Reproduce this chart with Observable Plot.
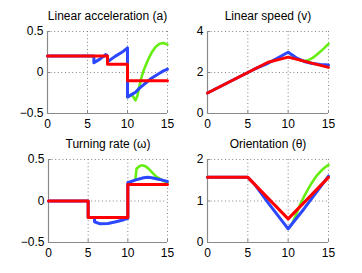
<!DOCTYPE html>
<html>
<head>
<meta charset="utf-8">
<script src="https://cdn.jsdelivr.net/npm/d3@7"></script>
<script src="https://cdn.jsdelivr.net/npm/@observablehq/plot@0.6"></script>
<style>
  html, body { margin: 0; padding: 0; background: #fff; }
  #wrap { position: relative; width: 362px; height: 273px; overflow: hidden; background: #fff; }
  #wrap > div { position: absolute; }
</style>
</head>
<body>
<div id="wrap">
  <div id="p1" style="left:0;top:0"></div>
  <div id="p2" style="left:181px;top:0"></div>
  <div id="p3" style="left:0;top:136px"></div>
  <div id="p4" style="left:181px;top:136px"></div>
</div>
<script>
// ---------- data ----------
const titles = ["Linear acceleration (a)", "Linear speed (v)", "Turning rate (\u03c9)", "Orientation (\u03b8)"];
const xTicks = [0, 5, 10, 15];
const xTickLabels = ["0", "5", "10", "15"];

// Panel 1: linear acceleration
const accYTicks = [-0.5, 0, 0.5];
const accYTickLabels = ["\u22120.5", "0", "0.5"];
const accRedT = [0, 7.5, 7.5, 10, 10, 15];
const accRed  = [0.2, 0.2, 0.1, 0.1, -0.1, -0.1];
const accBlueT = [0, 5.8, 5.8, 6.5, 7.3, 7.5, 7.5, 8.5, 9.5, 10, 10, 10.5, 11, 11.5, 12, 12.5, 13, 13.5, 14, 14.5, 15];
const accBlue  = [0.2, 0.2, 0.12, 0.16, 0.22, 0.2, 0.13, 0.2, 0.26, 0.3, -0.3, -0.27, -0.24, -0.19, -0.15, -0.11, -0.07, -0.04, -0.01, 0.02, 0.04];
const accGreenT = [10, 10.5, 10.75, 11, 11.25, 11.5, 11.75, 12, 12.5, 13, 13.5, 14, 14.5, 15];
const accGreen  = [-0.3, -0.27, -0.3, -0.34, -0.28, -0.16, -0.06, 0.02, 0.14, 0.24, 0.31, 0.35, 0.36, 0.34];

// Panel 2: linear speed
const spdYTicks = [0, 2, 4];
const spdYTickLabels = ["0", "2", "4"];
const spdRedT = [0, 7.5, 10, 15];
const spdRed  = [1, 2.5, 2.75, 2.25];
const spdBlueT = [0, 5.8, 7.5, 10, 11, 12, 13, 14, 15];
const spdBlue  = [1, 2.16, 2.45, 2.99, 2.72, 2.54, 2.44, 2.39, 2.36];
const spdGreenT = [10, 11, 11.5, 12, 12.5, 13, 13.5, 14, 14.5, 15];
const spdGreen  = [2.99, 2.69, 2.6, 2.56, 2.6, 2.7, 2.85, 3.02, 3.2, 3.4];

// Panel 3: turning rate
const trnYTicks = [-0.5, 0, 0.5];
const trnYTickLabels = ["\u22120.5", "0", "0.5"];
const trnRedT = [0, 5, 5, 10, 10, 15];
const trnRed  = [0, 0, -0.2, -0.2, 0.2, 0.2];
const trnBlueT = [0, 5, 5, 5.8, 5.8, 6.5, 7.5, 8.5, 9.5, 10, 10, 11, 12, 12.5, 13, 14, 15];
const trnBlue  = [0, 0, -0.2, -0.2, -0.25, -0.275, -0.27, -0.25, -0.225, -0.21, 0.22, 0.255, 0.28, 0.285, 0.28, 0.26, 0.235];
const trnGreenT = [10.8, 10.95, 11.1, 11.5, 11.8, 12.2, 12.6, 13, 13.5, 14, 14.5, 15];
const trnGreen  = [0.25, 0.26, 0.39, 0.42, 0.43, 0.42, 0.39, 0.35, 0.3, 0.27, 0.24, 0.22];

// Panel 4: orientation
const oriYTicks = [0, 1, 2];
const oriYTickLabels = ["0", "1", "2"];
const oriRedT = [0, 5, 10, 15];
const oriRed  = [1.57, 1.57, 0.57, 1.57];
const oriBlueT = [0, 5, 5.8, 7.5, 10, 12, 15];
const oriBlue  = [1.57, 1.57, 1.41, 0.96, 0.33, 0.82, 1.6];
const oriGreenT = [10, 10.5, 11, 11.5, 12, 12.5, 13, 13.5, 14, 14.5, 15];
const oriGreen  = [0.33, 0.46, 0.68, 0.92, 1.12, 1.3, 1.46, 1.6, 1.71, 1.8, 1.87];

// ---------- styling ----------
const RED = "#ff0000", BLUE = "#2b47ff", GREEN = "#66ee11";
const AXIS = "#8a8a8a";
const FONT = "'Liberation Sans', Arial, Helvetica, sans-serif";

const rows = (ts, vs) => ts.map((t, i) => ({t, v: vs[i]}));

function panel({el, title, w, h, mL, mR, mT, mB, yDomain, yTicks, yLabels, red, blue, green}) {
  const fw = w - mL - mR, fh = h - mT - mB;
  const chart = Plot.plot({
    width: w, height: h,
    marginLeft: mL, marginRight: mR, marginTop: mT, marginBottom: mB,
    style: {fontFamily: FONT, fontSize: "12px", background: "white", color: "#000", overflow: "visible"},
    x: {domain: [0, 15]},
    y: {domain: yDomain},
    marks: [
      Plot.gridX(xTicks.slice(1), {stroke: "#777", strokeOpacity: 0.9, strokeDasharray: "1,2.6"}),
      Plot.gridY(yTicks.slice(1), {stroke: "#777", strokeOpacity: 0.9, strokeDasharray: "1,2.6"}),
      Plot.ruleX([0], {stroke: AXIS, strokeWidth: 1.2}),
      Plot.ruleY([yDomain[0]], {stroke: AXIS, strokeWidth: 1.2}),
      Plot.tickX(xTicks, {x: d => d, stroke: AXIS, insetTop: fh - 3}),
      Plot.tickY(yTicks, {y: d => d, stroke: AXIS, insetRight: fw - 3}),
      Plot.axisX({ticks: xTicks, tickSize: 0, tickPadding: 6, fontSize: 12, label: null,
                  tickFormat: (d) => xTickLabels[xTicks.indexOf(d)]}),
      Plot.axisY({ticks: yTicks, tickSize: 0, tickPadding: 4, fontSize: 12, label: null,
                  tickFormat: (d) => yLabels[yTicks.indexOf(d)]}),
      Plot.line(green, {x: "t", y: "v", stroke: GREEN, strokeWidth: 2.6}),
      Plot.line(blue, {x: "t", y: "v", stroke: BLUE, strokeWidth: 3}),
      Plot.line(red, {x: "t", y: "v", stroke: RED, strokeWidth: 3}),
      Plot.text([title], {frameAnchor: "top", lineAnchor: "middle", dy: -15, fontSize: 12, fill: "#000"})
    ]
  });
  document.getElementById(el).appendChild(chart);
}

panel({el: "p1", title: titles[0], w: 181, h: 136, mL: 47, mR: 14, mT: 31, mB: 23,
  yDomain: [-0.5, 0.5], yTicks: accYTicks, yLabels: accYTickLabels,
  red: rows(accRedT, accRed), blue: rows(accBlueT, accBlue), green: rows(accGreenT, accGreen)});
panel({el: "p2", title: titles[1], w: 181, h: 136, mL: 26, mR: 34, mT: 31, mB: 23,
  yDomain: [0, 4], yTicks: spdYTicks, yLabels: spdYTickLabels,
  red: rows(spdRedT, spdRed), blue: rows(spdBlueT, spdBlue), green: rows(spdGreenT, spdGreen)});
panel({el: "p3", title: titles[2], w: 181, h: 137, mL: 48, mR: 14, mT: 23, mB: 31,
  yDomain: [-0.5, 0.5], yTicks: trnYTicks, yLabels: trnYTickLabels,
  red: rows(trnRedT, trnRed), blue: rows(trnBlueT, trnBlue), green: rows(trnGreenT, trnGreen)});
panel({el: "p4", title: titles[3], w: 181, h: 137, mL: 26, mR: 34, mT: 23, mB: 31,
  yDomain: [0, 2], yTicks: oriYTicks, yLabels: oriYTickLabels,
  red: rows(oriRedT, oriRed), blue: rows(oriBlueT, oriBlue), green: rows(oriGreenT, oriGreen)});
</script>
</body>
</html>
